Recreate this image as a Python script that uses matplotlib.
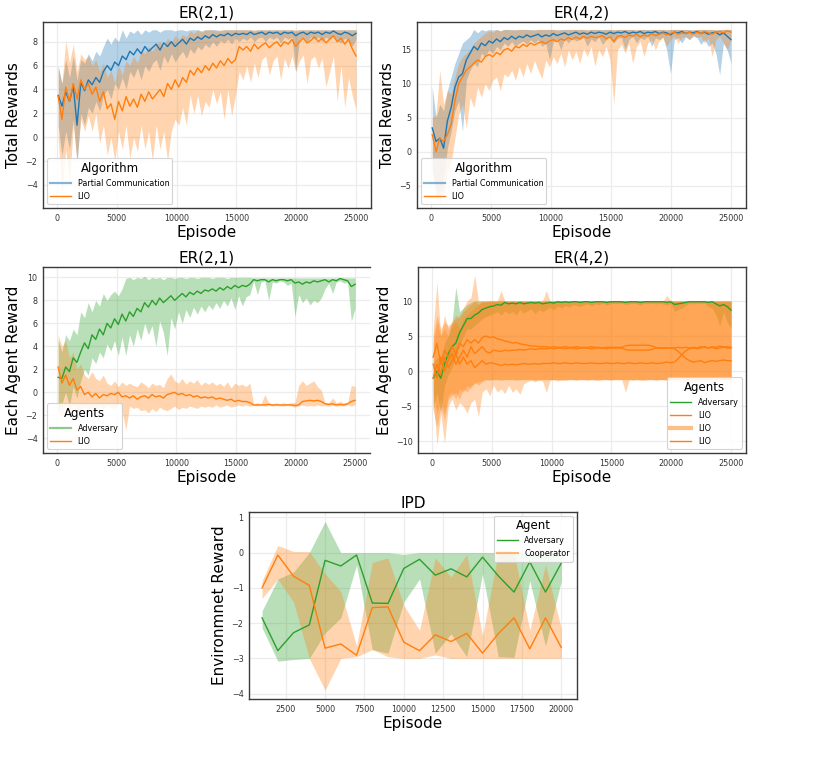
import numpy as np
import matplotlib
matplotlib.use("Agg")
import matplotlib.pyplot as plt
from matplotlib.lines import Line2D

# ---------------- data ----------------
episodes = np.linspace(100, 25000, 80)

# ER(2,1) total rewards
pc1_mean = [3.5, 2.6, 3.8, 3.0, 4.3, 1.0, 4.6, 3.9, 4.8, 4.4,
            5.0, 4.6, 5.5, 6.0, 5.6, 6.3, 6.0, 6.8, 6.5, 7.2,
            6.9, 7.4, 7.0, 7.6, 7.2, 7.5, 7.8, 7.3, 7.9, 7.6,
            8.0, 7.6, 7.9, 8.2, 7.8, 8.3, 8.1, 8.4, 8.2, 8.5,
            8.3, 8.6, 8.4, 8.6, 8.5, 8.7, 8.5, 8.7, 8.6, 8.7,
            8.6, 8.8, 8.6, 8.7, 8.8, 8.6, 8.8, 8.7, 8.8, 8.6,
            8.8, 8.7, 8.8, 8.5, 8.7, 8.8, 8.6, 8.8, 8.7, 8.8,
            8.6, 8.8, 8.7, 8.9, 8.7, 8.6, 8.8, 8.7, 8.5, 8.7]
pc1_hi = [6.0, 4.5, 6.5, 5.0, 6.8, 4.8, 6.5, 6.2, 7.0, 6.4,
          7.2, 6.8, 7.6, 8.3, 7.8, 8.4, 8.0, 9.0, 8.3, 8.9,
          8.7, 9.0, 8.6, 9.0, 8.8, 9.0, 9.0, 8.8, 9.0, 9.0,
          9.0, 8.9, 9.0, 9.0, 8.9, 9.0, 9.0, 9.0, 8.9, 9.0,
          9.0, 9.0, 9.0, 8.9, 9.0, 9.0, 9.0, 9.0, 9.0, 9.0,
          9.0, 9.0, 8.9, 9.0, 9.0, 9.0, 9.0, 9.0, 9.0, 9.0,
          9.0, 9.0, 9.0, 8.9, 9.0, 9.0, 9.0, 9.0, 9.0, 9.0,
          9.0, 9.0, 9.0, 9.0, 9.0, 9.0, 9.0, 9.0, 9.0, 9.0]
pc1_lo = [1.0, -1.5, 0.5, -1.0, 1.5, -2.2, 2.0, 1.0, 2.5, 2.0,
          3.0, 2.2, 3.5, 4.0, 3.2, 4.5, 4.0, 5.0, 4.0, 5.5,
          5.0, 5.8, 4.8, 6.0, 5.5, 6.2, 6.5, 5.6, 6.8, 6.2,
          7.0, 6.3, 6.8, 7.2, 6.6, 7.4, 7.0, 7.6, 7.3, 7.8,
          7.5, 8.0, 7.6, 8.1, 7.9, 8.2, 7.8, 8.3, 8.0, 8.3,
          8.1, 8.4, 8.0, 8.3, 8.4, 8.0, 8.4, 8.2, 8.4, 7.9,
          8.4, 8.2, 8.4, 5.5, 8.2, 8.4, 8.0, 8.4, 8.2, 8.4,
          8.0, 8.4, 8.2, 8.5, 8.1, 7.9, 8.3, 8.1, 7.6, 8.2]
lio1_mean = [3.4, 1.5, 4.2, 3.0, 4.5, 3.2, 4.8, 4.0, 4.5, 3.6,
             4.2, 3.0, 3.8, 2.4, 2.8, 1.5, 3.0, 2.2, 3.4, 2.6,
             3.2, 2.5, 3.6, 3.0, 3.8, 3.2, 3.6, 4.0, 3.4, 4.5,
             4.0, 4.8, 4.2, 5.0, 4.6, 5.6, 5.2, 5.8, 5.4, 6.0,
             5.6, 6.2, 5.8, 6.4, 6.0, 6.6, 6.2, 6.5, 7.6, 7.3,
             7.6, 7.2, 7.8, 7.4, 7.7, 7.9, 7.5, 7.8, 8.0, 7.6,
             8.0, 7.8, 8.2, 7.6, 8.0, 8.3, 7.9, 8.1, 8.4, 8.0,
             8.3, 7.9, 8.2, 8.5, 8.0, 8.3, 7.8, 8.2, 7.4, 6.8]
lio1_hi = [5.8, 4.5, 8.1, 6.2, 7.8, 5.5, 7.0, 6.5, 6.8, 6.0,
           6.5, 5.5, 6.2, 5.0, 5.6, 4.5, 6.0, 5.2, 6.4, 6.0,
           6.8, 6.2, 7.2, 7.0, 7.6, 7.2, 7.8, 8.0, 7.6, 8.3,
           8.0, 8.5, 8.2, 8.6, 8.4, 8.9, 8.7, 9.0, 8.8, 9.0,
           9.0, 9.0, 8.9, 9.0, 9.0, 9.0, 9.0, 9.0, 9.0, 9.0,
           9.0, 9.0, 9.0, 9.0, 9.0, 9.0, 9.0, 9.0, 9.0, 9.0,
           9.0, 9.0, 9.0, 9.0, 9.0, 9.0, 9.0, 9.0, 9.0, 9.0,
           9.0, 9.0, 9.0, 9.0, 9.0, 9.0, 9.0, 9.0, 9.0, 9.0]
lio1_lo = [0.0, -5.0, -1.0, -4.0, 1.0, -2.0, 1.5, 0.5, 1.8, 0.5,
           2.0, -0.5, 1.0, -1.5, 0.0, -2.0, 0.5, -1.0, 1.0, -1.8,
           0.0, -1.2, 1.0, -1.0, 0.5, -2.0, 1.0, -1.0, 0.5, -2.0,
           0.5, 1.5, 1.0, 2.5, 1.0, 3.5, 2.0, 3.5, 1.8, 3.0,
           2.5, 4.0, 2.8, 3.8, 1.5, 4.0, 1.8, 3.5, 5.5, 4.8,
           6.0, 4.6, 6.2, 5.0, 6.5, 6.8, 5.2, 6.4, 6.8, 4.8,
           6.6, 5.8, 6.8, 5.5, 6.4, 6.9, 4.5, 6.5, 6.8, 5.8,
           6.6, 4.2, 5.5, 6.8, 3.0, 6.0, 2.5, 5.0, 3.5, 2.3]

# ER(4,2) total rewards
pc2_mean = [3.5, 1.5, 2.0, 0.5, 4.5, 6.5, 9.5, 11.0, 11.5, 13.5,
            14.5, 15.5, 15.0, 16.0, 15.6, 16.3, 16.0, 16.6, 16.2, 16.8,
            16.5, 17.0, 16.6, 17.0, 16.8, 17.2, 16.9, 17.1, 17.3, 16.9,
            17.2, 17.0, 17.4, 17.1, 17.3, 17.5, 17.2, 17.4, 17.6, 17.3,
            17.5, 17.3, 17.6, 17.4, 17.6, 17.5, 17.3, 17.6, 17.4, 17.6,
            17.5, 17.7, 17.4, 17.6, 17.5, 17.7, 17.4, 17.6, 17.5, 17.7,
            17.4, 17.6, 17.5, 17.2, 17.6, 17.5, 17.7, 17.4, 17.6, 17.5,
            17.7, 17.4, 17.6, 17.3, 17.5, 17.6, 17.2, 17.5, 17.0, 16.5]
pc2_hi = [9.5, 5.0, 7.0, 6.0, 9.0, 11.0, 13.0, 14.5, 16.0, 16.5,
          17.0, 18.0, 17.5, 18.0, 17.8, 18.0, 17.9, 18.0, 17.8, 18.0,
          18.0, 18.0, 17.9, 18.0, 18.0, 18.0, 18.0, 17.9, 18.0, 18.0,
          18.0, 18.0, 18.0, 17.9, 18.0, 18.0, 18.0, 18.0, 18.0, 18.0,
          18.0, 17.9, 18.0, 18.0, 18.0, 18.0, 18.0, 18.0, 17.9, 18.0,
          18.0, 18.0, 18.0, 18.0, 17.9, 18.0, 18.0, 18.0, 18.0, 18.0,
          18.0, 18.0, 17.9, 18.0, 18.0, 18.0, 18.0, 18.0, 18.0, 17.9,
          18.0, 18.0, 18.0, 18.0, 18.0, 17.9, 18.0, 18.0, 18.0, 18.0]
pc2_lo = [-3.0, -5.5, -7.5, -4.0, 0.5, 3.0, 6.0, 7.5, 3.0, 10.5,
          12.0, 13.0, 12.5, 14.5, 14.0, 15.0, 14.5, 15.5, 15.0, 16.0,
          15.5, 16.2, 15.5, 16.0, 16.3, 15.8, 16.5, 16.0, 16.5, 15.5,
          16.0, 13.5, 16.2, 16.5, 15.0, 16.6, 16.0, 16.8, 16.3, 16.5,
          16.8, 15.5, 16.6, 16.2, 16.9, 15.8, 16.5, 17.0, 16.0, 16.7,
          16.8, 15.0, 16.5, 17.0, 16.0, 16.8, 16.5, 17.0, 15.5, 16.8,
          16.5, 16.9, 15.0, 11.5, 16.5, 16.8, 16.0, 16.9, 16.5, 17.0,
          16.8, 15.8, 16.5, 15.5, 16.0, 14.5, 11.3, 16.0, 15.0, 13.0]
lio2_mean = [2.5, 0.0, 2.0, 1.5, 2.5, 4.0, 7.5, 10.0, 11.0, 12.0,
             12.5, 13.0, 13.5, 13.2, 14.0, 14.3, 14.0, 14.6, 14.3, 15.0,
             15.2, 14.8, 15.5, 15.3, 15.8, 15.5, 16.0, 15.7, 16.0, 16.2,
             15.9, 16.3, 16.5, 16.2, 16.6, 16.4, 16.8, 16.5, 16.9, 16.6,
             17.0, 16.7, 17.0, 16.8, 16.9, 17.1, 16.6, 16.9, 16.2, 17.0,
             17.1, 16.8, 17.2, 17.0, 17.3, 16.9, 17.2, 17.0, 17.4, 17.1,
             17.3, 17.5, 17.2, 17.4, 17.6, 17.3, 17.5, 17.4, 17.6, 17.3,
             17.6, 17.4, 17.7, 17.5, 17.3, 17.6, 17.7, 17.5, 17.8, 17.6]
lio2_hi = [5.0, 5.5, 12.0, 7.0, 9.0, 8.5, 11.0, 13.0, 14.0, 14.5,
           15.0, 16.0, 16.5, 17.0, 17.5, 17.8, 17.6, 18.0, 17.8, 18.0,
           18.0, 17.9, 18.0, 18.0, 18.0, 18.0, 17.9, 18.0, 18.0, 18.0,
           18.0, 18.0, 18.0, 18.0, 17.9, 18.0, 18.0, 18.0, 18.0, 18.0,
           18.0, 18.0, 18.0, 18.0, 18.0, 17.9, 18.0, 18.0, 18.0, 18.0,
           18.0, 18.0, 18.0, 18.0, 18.0, 18.0, 18.0, 17.9, 18.0, 18.0,
           18.0, 18.0, 18.0, 18.0, 18.0, 18.0, 18.0, 18.0, 17.9, 18.0,
           18.0, 18.0, 18.0, 18.0, 18.0, 18.0, 18.0, 18.0, 18.0, 18.0]
lio2_lo = [-2.0, -7.5, -5.0, -7.0, -3.0, -1.5, 2.0, 5.5, 7.0, 3.5,
           8.0, 6.5, 9.5, 8.0, 10.0, 9.0, 10.5, 11.0, 9.0, 11.5,
           11.0, 12.0, 10.5, 12.5, 11.0, 13.0, 11.5, 13.5, 12.0, 10.8,
           13.5, 12.5, 14.0, 13.0, 14.5, 12.5, 15.0, 13.5, 14.8, 13.0,
           15.2, 14.0, 15.5, 12.6, 15.0, 14.0, 15.5, 13.5, 7.0, 15.0,
           15.8, 14.5, 16.0, 13.0, 15.5, 16.2, 14.0, 16.0, 16.5, 15.0,
           16.3, 16.8, 15.5, 16.5, 17.0, 16.0, 16.8, 17.0, 16.5, 17.2,
           16.8, 17.0, 16.0, 16.8, 14.0, 16.5, 17.0, 16.0, 15.0, 16.5]

# ER(2,1) each agent reward
adv3_mean = [1.3, 1.2, 2.2, 1.8, 3.0, 2.6, 3.5, 4.3, 3.8, 5.0,
             4.6, 5.5, 5.0, 6.0, 5.6, 6.4, 5.9, 6.8, 6.2, 7.0,
             6.6, 7.3, 7.0, 7.8, 7.4, 8.0, 7.6, 8.2, 7.8, 8.1,
             8.4, 8.0, 8.3, 8.6, 8.3, 8.7, 8.5, 8.8, 8.6, 8.9,
             8.8, 9.0, 8.8, 9.1, 8.9, 9.2, 9.0, 9.3, 9.1, 9.3,
             9.2, 9.4, 9.8, 9.7, 9.8, 9.8, 9.6, 9.8, 9.7, 9.8,
             9.8, 9.7, 9.8, 9.5, 9.6, 9.4, 9.6, 9.5, 9.7, 9.6,
             9.7, 9.8, 9.6, 9.8, 9.7, 9.9, 9.8, 9.7, 9.2, 9.4]
adv3_hi = [4.5, 3.5, 5.0, 4.5, 5.5, 5.0, 7.0, 6.5, 7.8, 7.0,
           8.0, 7.5, 8.6, 8.0, 8.5, 8.8, 8.4, 9.0, 9.9, 10.0,
           9.8, 10.0, 9.9, 10.1, 9.8, 10.0, 9.9, 10.0, 9.8, 10.0,
           10.0, 9.9, 10.0, 10.0, 9.9, 10.0, 10.0, 9.9, 10.0, 10.0,
           10.0, 9.9, 10.0, 10.0, 10.0, 9.9, 10.0, 10.0, 10.0, 10.0,
           10.0, 10.0, 9.95, 9.95, 9.95, 9.95, 9.95, 9.95, 9.95, 9.95,
           9.95, 9.95, 9.95, 9.95, 9.95, 9.95, 9.95, 9.95, 9.95, 9.95,
           9.95, 9.95, 9.95, 9.95, 9.95, 9.95, 9.95, 9.95, 9.95, 9.95]
adv3_lo = [-1.5, -1.0, 0.0, -1.2, 0.5, -0.5, 1.0, 2.0, 1.5, 3.0,
           2.5, 3.5, 3.0, 4.2, 3.6, 4.5, 3.2, 4.8, 3.2, 5.0,
           4.0, 5.5, 4.5, 6.0, 5.0, 5.8, 4.0, 6.2, 5.2, 3.2,
           6.5, 5.5, 7.0, 6.0, 7.2, 6.5, 7.4, 6.8, 7.5, 7.0,
           7.6, 7.2, 7.8, 7.3, 8.0, 7.5, 8.2, 7.2, 8.4, 7.5,
           8.3, 8.5, 9.7, 8.5, 9.6, 9.7, 8.0, 9.6, 9.5, 9.7,
           9.6, 9.3, 9.5, 6.6, 8.5, 7.8, 8.2, 7.6, 8.0, 7.8,
           8.2, 9.0, 9.5, 8.6, 9.6, 9.7, 9.5, 9.6, 6.2, 7.3]
lio3_mean = [2.2, 0.8, 1.5, 0.6, 1.2, 0.2, 0.5, -0.2, 0.0, -0.4,
             -0.1, -0.5, -0.2, -0.3, -0.1, -0.2, 0.0, -0.4, -0.3, -0.5,
             -0.3, -0.6, -0.4, -0.3, -0.5, -0.2, -0.4, -0.3, -0.5, -0.2,
             -0.1, 0.0, -0.2, -0.1, -0.3, -0.2, -0.4, -0.3, -0.5, -0.4,
             -0.5, -0.4, -0.6, -0.5, -0.6, -0.7, -0.6, -0.8, -0.7, -0.8,
             -0.8, -0.9, -1.1, -1.1, -1.1, -1.1, -1.05, -1.1, -1.1, -1.1,
             -1.1, -1.1, -1.1, -1.15, -1.1, -0.8, -0.75, -0.7, -0.75, -0.7,
             -0.8, -1.0, -1.05, -1.0, -1.1, -1.05, -1.1, -1.0, -0.8, -0.7]
lio3_hi = [5.0, 4.0, 4.5, 3.0, 3.5, 2.0, 2.5, 1.5, 1.2, 1.8,
           1.2, 1.0, 1.5, 0.8, 0.6, 1.0, 0.5, 0.9, 0.6, 0.8,
           0.6, 0.5, 0.9, 0.7, 0.4, 0.8, 0.6, 0.7, 0.4, 1.2,
           1.6, 1.0, 0.8, 1.2, 0.7, 1.0, 0.8, 1.1, 0.6, 0.9,
           0.7, 0.9, 0.6, 0.8, 0.5, 0.9, 0.4, 0.8, 0.6, 0.7,
           0.5, 0.8, -1.0, -0.9, -1.0, -0.2, -0.9, -1.0, -0.9, -1.0,
           -0.9, -1.0, -0.9, -0.9, 0.6, 1.0, 0.6, 0.8, 1.0, 0.5,
           0.2, -0.9, -0.9, -0.5, -0.9, -0.8, -0.9, -0.9, 0.6, 0.5]
lio3_lo = [-1.5, -2.2, -1.0, -2.0, -1.0, -1.8, -1.5, -1.2, -1.6, -1.3,
           -1.5, -1.2, -1.4, -1.1, -1.3, -1.5, -1.0, -1.6, -3.3, -1.2,
           -1.4, -1.3, -1.6, -1.5, -1.8, -1.4, -1.7, -1.3, -1.5, -1.6,
           -1.4, -1.2, -1.5, -1.3, -1.4, -1.2, -1.3, -1.4, -1.2, -1.3,
           -1.2, -1.3, -1.1, -1.3, -1.2, -1.1, -1.3, -1.2, -1.1, -1.2,
           -1.1, -1.2, -1.15, -1.2, -1.15, -1.2, -1.15, -1.2, -1.15, -1.2,
           -1.2, -1.15, -1.2, -1.3, -1.2, -1.1, -1.2, -1.15, -1.2, -1.1,
           -1.2, -1.15, -1.2, -1.15, -1.2, -1.15, -1.2, -1.1, -1.2, -1.1]

# ER(4,2) each agent reward
adv4_mean = [-1.0, 0.0, -1.0, 1.0, 2.5, 3.5, 4.0, 5.5, 6.5, 7.5,
             7.5, 8.0, 8.3, 8.8, 9.0, 9.2, 9.3, 9.5, 9.4, 9.8,
             9.6, 9.7, 9.6, 9.8, 9.6, 9.7, 9.8, 9.7, 9.8, 9.6,
             9.7, 9.8, 9.7, 9.9, 9.8, 9.9, 9.8, 9.9, 9.9, 9.8,
             9.9, 9.9, 9.8, 9.9, 9.9, 9.9, 9.8, 9.9, 9.9, 9.9,
             9.9, 9.8, 9.9, 9.9, 9.9, 9.8, 9.9, 9.9, 9.9, 9.9,
             9.9, 9.9, 9.8, 9.9, 9.5, 9.6, 9.7, 9.8, 9.9, 9.9,
             9.9, 9.9, 9.9, 9.8, 9.9, 9.6, 9.3, 9.5, 9.2, 8.7]
adv4_hi = [1.0, 2.0, 1.5, 4.0, 5.0, 7.0, 12.0, 8.5, 9.0, 9.5,
           9.8, 10.0, 10.0, 10.0, 10.0, 10.0, 10.0, 10.0, 10.0, 10.0,
           10.0, 10.0, 10.0, 10.0, 10.0, 10.0, 10.0, 10.0, 10.0, 10.0,
           10.0, 10.0, 10.0, 10.0, 10.0, 10.0, 10.0, 10.0, 10.0, 10.0,
           10.0, 10.0, 10.0, 10.0, 10.0, 10.0, 10.0, 10.0, 10.0, 10.0,
           10.0, 10.0, 10.0, 10.0, 10.0, 10.0, 10.0, 10.0, 10.0, 10.0,
           10.0, 10.0, 10.0, 10.0, 10.0, 10.0, 10.0, 10.0, 10.0, 10.0,
           10.0, 10.0, 10.0, 10.0, 10.0, 10.0, 10.0, 10.0, 10.0, 10.0]
adv4_lo = [-5.5, -3.0, -6.0, -2.0, -0.5, 0.5, 2.0, 3.5, 5.0, 6.0,
           6.0, 6.5, 7.0, 7.5, 7.8, 8.0, 8.2, 8.5, 8.0, 8.6,
           8.2, 8.5, 8.0, 8.8, 8.3, 8.6, 8.9, 8.2, 8.8, 8.5,
           8.8, 9.1, 8.7, 9.3, 9.0, 9.4, 9.1, 9.5, 9.4, 9.2,
           9.5, 9.6, 9.3, 9.6, 9.5, 9.7, 9.4, 9.6, 9.7, 9.6,
           9.7, 9.5, 9.6, 9.7, 9.6, 9.4, 9.7, 9.6, 9.7, 9.6,
           9.7, 9.6, 9.4, 9.7, 8.5, 8.8, 9.0, 9.4, 9.7, 9.6,
           9.7, 9.6, 9.7, 9.2, 9.0, 8.0, 6.5, 8.5, 7.0, 6.2]
lioa_mean = [2.0, 4.0, 1.0, 3.0, 2.0, 3.5, 2.5, 4.0, 3.5, 4.5,
             4.0, 4.5, 4.0, 4.8, 5.0, 4.8, 4.9, 4.6, 4.5, 4.3,
             4.2, 4.0, 4.1, 3.9, 3.8, 3.7, 3.6, 3.6, 3.5, 3.5,
             3.5, 3.4, 3.5, 3.4, 3.4, 3.5, 3.4, 3.4, 3.5, 3.4,
             3.4, 3.4, 3.5, 3.4, 3.4, 3.3, 3.4, 3.4, 3.4, 3.4,
             3.4, 3.6, 3.7, 3.7, 3.7, 3.7, 3.7, 3.7, 3.6, 3.4,
             3.3, 3.3, 3.3, 3.3, 3.3, 3.4, 3.3, 3.4, 3.3, 3.4,
             3.3, 3.5, 3.4, 3.3, 3.5, 3.4, 3.6, 3.4, 3.5, 3.4]
lioa_hi = [6.0, 12.7, 5.0, 8.0, 6.0, 7.0, 8.0, 7.5, 9.0, 10.0,
           10.5, 13.7, 10.0, 10.0, 9.8, 10.0, 10.0, 10.0, 11.5, 10.0,
           10.0, 10.0, 10.0, 10.0, 10.0, 10.0, 10.0, 10.0, 10.0, 10.0,
           11.5, 10.0, 10.0, 10.0, 10.0, 10.0, 10.0, 10.0, 10.0, 10.0,
           10.0, 10.0, 10.0, 10.0, 10.0, 10.0, 10.0, 10.0, 10.0, 10.0,
           10.0, 10.0, 10.0, 10.0, 10.0, 10.0, 10.0, 10.0, 10.0, 10.0,
           10.0, 10.0, 10.8, 10.0, 10.0, 10.0, 10.0, 10.0, 10.0, 10.0,
           10.0, 10.0, 10.0, 10.0, 10.0, 10.0, 10.0, 10.0, 10.0, 10.0]
lioa_lo = [-4.0, -10.5, -6.0, -10.3, -5.0, -4.0, -5.5, -4.5, -5.0, -6.0,
           -4.5, -4.0, -6.5, -3.0, -2.5, -3.5, -2.0, -3.0, -2.5, -3.2,
           -2.0, -3.0, -2.5, -3.3, -1.8, -1.5, -1.3, -1.5, -1.3, -1.4,
           -3.0, -1.3, -1.2, -1.4, -1.2, -1.3, -1.2, -1.2, -1.3, -1.2,
           -1.2, -1.3, -1.2, -1.2, -1.3, -1.2, -1.2, -1.3, -1.2, -1.2,
           -1.2, -3.0, -1.2, -1.3, -1.2, -1.2, -1.3, -1.2, -1.2, -1.3,
           -1.2, -1.2, -1.3, -1.2, -1.2, -1.2, -1.3, -1.2, -1.2, -1.3,
           -1.2, -1.2, -1.3, -1.2, -1.2, -1.3, -1.2, -1.2, -1.3, -1.2]
liob_mean = [1.0, -1.0, 2.0, 0.0, 1.5, 2.5, 1.0, 2.0, 3.0, 2.0,
             3.5, 2.5, 3.0, 3.5, 2.8, 2.6, 3.0, 2.9, 2.8, 3.0,
             2.9, 3.0, 3.0, 3.1, 3.0, 3.1, 3.2, 3.1, 3.2, 3.2,
             3.2, 3.3, 3.2, 3.3, 3.3, 3.2, 3.3, 3.3, 3.2, 3.3,
             3.3, 3.3, 3.2, 3.3, 3.3, 3.3, 3.2, 3.3, 3.3, 3.3,
             3.3, 3.1, 3.0, 3.0, 3.0, 3.0, 3.0, 3.0, 3.1, 3.3,
             3.3, 3.3, 3.3, 3.3, 3.2, 2.8, 2.3, 1.8, 1.5, 1.3,
             1.4, 1.5, 1.2, 1.4, 1.5, 1.4, 1.5, 1.6, 1.5, 1.5]
liob_hi = [5.0, 8.0, 6.0, 7.0, 6.5, 7.0, 7.5, 8.0, 8.5, 9.0,
           9.5, 10.0, 9.5, 10.0, 10.0, 10.0, 10.0, 10.0, 10.0, 10.0,
           10.0, 10.0, 10.0, 10.0, 10.0, 10.0, 10.0, 10.0, 10.0, 10.0,
           10.0, 10.0, 10.0, 10.0, 10.0, 10.0, 10.0, 10.0, 10.0, 10.0,
           10.0, 10.0, 10.0, 10.0, 10.0, 10.0, 10.0, 10.0, 10.0, 10.0,
           10.0, 10.0, 10.0, 10.0, 10.0, 10.0, 10.0, 10.0, 10.0, 10.0,
           10.0, 10.0, 10.0, 10.0, 10.0, 10.0, 10.0, 10.0, 10.0, 10.0,
           10.0, 10.0, 10.0, 10.0, 10.0, 10.0, 10.0, 10.0, 10.0, 10.0]
liob_lo = [-3.0, -6.0, -4.0, -6.0, -3.5, -3.0, -4.0, -2.5, -3.0, -2.0,
           -2.5, -1.5, -2.0, -1.5, -1.2, -1.3, -1.2, -1.2, -1.3, -1.2,
           -1.2, -1.2, -1.3, -1.2, -1.2, -1.2, -1.2, -1.3, -1.2, -1.2,
           -1.2, -1.2, -1.2, -1.2, -1.3, -1.2, -1.2, -1.2, -1.2, -1.2,
           -1.2, -1.2, -1.2, -1.3, -1.2, -1.2, -1.2, -1.2, -1.2, -1.2,
           -1.2, -1.2, -1.2, -1.2, -1.2, -1.3, -1.2, -1.2, -1.2, -1.2,
           -1.2, -1.2, -1.2, -1.2, -1.2, -1.2, -1.2, -1.3, -1.2, -1.2,
           -1.2, -1.2, -1.2, -1.2, -1.2, -1.2, -1.2, -1.2, -1.2, -1.2]
lioc_mean = [-1.0, 1.0, -0.5, 2.0, 0.5, 1.5, 2.5, 1.0, 2.0, 1.0,
             1.5, 0.5, 1.0, 1.5, 1.0, 1.2, 1.1, 1.0, 0.8, 1.0,
             0.9, 1.0, 0.9, 1.0, 1.1, 1.0, 1.0, 1.1, 1.0, 1.1,
             1.1, 1.1, 1.2, 1.1, 1.1, 1.2, 1.1, 1.1, 1.2, 1.1,
             1.1, 1.1, 1.2, 1.1, 1.1, 1.1, 1.2, 1.1, 1.1, 1.2,
             1.1, 1.1, 1.2, 1.1, 1.1, 1.2, 1.1, 1.1, 1.2, 1.1,
             1.1, 1.2, 1.3, 1.2, 1.3, 1.8, 2.4, 2.9, 3.2, 3.3,
             3.2, 3.3, 3.5, 3.3, 3.4, 3.2, 3.3, 3.5, 3.3, 3.3]
lioc_hi = [4.0, 7.0, 5.0, 6.0, 5.0, 6.5, 7.0, 6.0, 7.5, 8.0,
           8.5, 9.0, 9.5, 9.8, 10.0, 10.0, 10.0, 10.0, 10.0, 10.0,
           10.0, 10.0, 10.0, 10.0, 10.0, 10.0, 10.0, 10.0, 10.0, 10.0,
           10.0, 10.0, 10.0, 10.0, 10.0, 10.0, 10.0, 10.0, 10.0, 10.0,
           10.0, 10.0, 10.0, 10.0, 10.0, 10.0, 10.0, 10.0, 10.0, 10.0,
           10.0, 10.0, 10.0, 10.0, 10.0, 10.0, 10.0, 10.0, 10.0, 10.0,
           10.0, 10.0, 10.0, 10.0, 10.0, 10.0, 10.0, 10.0, 10.0, 10.0,
           10.0, 10.0, 10.0, 10.0, 10.0, 10.0, 10.0, 10.0, 10.0, 10.0]
lioc_lo = [-5.5, -8.0, -5.0, -7.0, -4.0, -3.5, -3.0, -4.0, -2.5, -3.0,
           -2.0, -1.8, -1.5, -1.3, -1.2, -1.2, -1.2, -1.2, -1.2, -1.2,
           -1.2, -1.2, -1.2, -1.2, -1.2, -1.2, -1.2, -1.2, -1.2, -1.2,
           -1.2, -1.2, -1.2, -1.2, -1.2, -1.2, -1.2, -1.2, -1.2, -1.2,
           -1.2, -1.2, -1.2, -1.2, -1.2, -1.2, -1.2, -1.2, -1.2, -1.2,
           -1.2, -1.2, -1.2, -1.2, -1.2, -1.2, -1.2, -1.2, -1.2, -1.2,
           -1.2, -1.2, -1.2, -1.2, -1.2, -1.2, -1.2, -1.2, -1.2, -1.2,
           -1.2, -1.2, -1.2, -1.2, -1.2, -1.2, -1.2, -1.2, -1.2, -1.2]

# IPD
ipd_episodes = [1000, 2000, 3000, 4000, 5000, 6000, 7000, 8000, 9000, 10000,
                11000, 12000, 13000, 14000, 15000, 16000, 17000, 18000, 19000, 20000]
ipd_adv_mean = [-1.85, -2.78, -2.27, -2.05, -0.22, -0.38, -0.07, -1.43, -1.44, -0.45,
                -0.19, -0.64, -0.46, -0.69, -0.13, -0.66, -1.12, -0.26, -1.12, -0.30]
ipd_adv_hi = [-1.65, -0.75, -0.55, 0.0, 0.88, 0.0, 0.0, 0.0, 0.0, -0.05,
              0.0, 0.0, 0.0, 0.0, 0.0, 0.0, 0.0, 0.0, 0.0, 0.0]
ipd_adv_lo = [-2.13, -3.08, -3.03, -3.0, -2.28, -1.85, -0.35, -2.75, -2.85, -1.4,
              -0.75, -2.85, -2.3, -2.95, -0.6, -2.95, -2.97, -0.8, -2.65, -0.8]
ipd_coop_mean = [-1.0, -0.07, -0.67, -0.93, -2.71, -2.59, -2.91, -1.56, -1.54, -2.54,
                 -2.78, -2.33, -2.52, -2.29, -2.85, -2.3, -1.85, -2.73, -1.85, -2.69]
ipd_coop_hi = [-0.8, 0.2, 0.03, 0.03, -0.6, -1.1, -2.65, -0.28, -0.15, -1.5,
               -2.2, -0.15, -0.7, -0.05, -2.35, 0.0, 0.0, -2.2, -0.35, -2.15]
ipd_coop_lo = [-1.3, -0.75, -1.4, -3.0, -3.9, -3.0, -2.95, -2.75, -2.95, -3.0,
               -3.0, -2.9, -3.0, -3.0, -3.0, -3.0, -3.0, -3.0, -3.0, -3.0]

# ---------------- style ----------------
BLUE = "#1f77b4"
ORANGE = "#ff7f0e"
GREEN = "#2ca02c"
BAND_ALPHA = 0.33
LW = 1.0

plt.rcParams['font.family'] = ['DejaVu Sans']
fig = plt.figure(figsize=(8.38, 7.6), dpi=100)
W, H = 838.0, 760.0


def make_ax(px_left, px_top, px_w, px_h, xlim, ylim, xticks, yticks,
            title, ylabel, right_spine=True):
    ax = fig.add_axes([px_left / W, 1 - (px_top + px_h) / H, px_w / W, px_h / H])
    ax.set_xlim(*xlim)
    ax.set_ylim(*ylim)
    ax.set_xticks(xticks)
    ax.set_yticks(yticks)
    ax.grid(True, color="#ececec", linewidth=0.9)
    ax.set_axisbelow(True)
    ax.tick_params(length=0, labelsize=5.8, pad=4, colors="#333333")
    for s in ax.spines.values():
        s.set_color("#3a3a3a")
        s.set_linewidth(1.0)
    if not right_spine:
        ax.spines['right'].set_visible(False)
    ax.set_title(title, fontsize=11, pad=3)
    ax.set_xlabel("Episode", fontsize=11, labelpad=2)
    ax.set_ylabel(ylabel, fontsize=11, labelpad=3)
    return ax


def band(ax, x, lo, hi, color):
    ax.fill_between(x, lo, hi, color=color, alpha=BAND_ALPHA, linewidth=0)


def legend(ax, handles, labels, title, loc):
    lg = ax.legend(handles, labels, title=title, loc=loc, fontsize=5.8,
                   title_fontsize=8.5, frameon=True, framealpha=0.85,
                   edgecolor="#cccccc", borderaxespad=0.5, handlelength=2.6,
                   labelspacing=0.5)
    lg.get_frame().set_linewidth(0.8)
    return lg


xt = [0, 5000, 10000, 15000, 20000, 25000]
xl = (-1170, 26250)

# ---- ER(2,1) total ----
ax1 = make_ax(43, 22, 328, 186, xl, (-5.93, 9.65), xt, [-4, -2, 0, 2, 4, 6, 8],
              "ER(2,1)", "Total Rewards")
band(ax1, episodes, pc1_lo, pc1_hi, BLUE)
band(ax1, episodes, lio1_lo, lio1_hi, ORANGE)
ax1.plot(episodes, pc1_mean, color=BLUE, lw=LW)
ax1.plot(episodes, lio1_mean, color=ORANGE, lw=LW)
legend(ax1, [Line2D([], [], color=BLUE, lw=1.6, alpha=0.55),
             Line2D([], [], color=ORANGE, lw=1.0)],
       ["Partial Communication", "LIO"], "Algorithm", "lower left")

# ---- ER(4,2) total ----
ax2 = make_ax(417, 22, 329, 186, xl, (-8.3, 19.1), xt, [-5, 0, 5, 10, 15],
              "ER(4,2)", "Total Rewards")
band(ax2, episodes, pc2_lo, pc2_hi, BLUE)
band(ax2, episodes, lio2_lo, lio2_hi, ORANGE)
ax2.plot(episodes, pc2_mean, color=BLUE, lw=LW)
ax2.plot(episodes, lio2_mean, color=ORANGE, lw=LW)
legend(ax2, [Line2D([], [], color=BLUE, lw=1.6, alpha=0.55),
             Line2D([], [], color=ORANGE, lw=1.0)],
       ["Partial Communication", "LIO"], "Algorithm", "lower left")

# ---- ER(2,1) each agent ----
ax3 = make_ax(43, 267, 327, 186, xl, (-5.28, 10.9), xt, [-4, -2, 0, 2, 4, 6, 8, 10],
              "ER(2,1)", "Each Agent Reward", right_spine=False)
band(ax3, episodes, adv3_lo, adv3_hi, GREEN)
band(ax3, episodes, lio3_lo, lio3_hi, ORANGE)
ax3.plot(episodes, adv3_mean, color=GREEN, lw=LW)
ax3.plot(episodes, lio3_mean, color=ORANGE, lw=LW)
legend(ax3, [Line2D([], [], color=GREEN, lw=1.6, alpha=0.55),
             Line2D([], [], color=ORANGE, lw=1.0)],
       ["Adversary", "LIO"], "Agents", "lower left")

# ---- ER(4,2) each agent ----
ax4 = make_ax(418, 267, 328, 186, xl, (-11.66, 14.85), xt, [-10, -5, 0, 5, 10],
              "ER(4,2)", "Each Agent Reward")
band(ax4, episodes, adv4_lo, adv4_hi, GREEN)
for lo, hi in [(lioa_lo, lioa_hi), (liob_lo, liob_hi), (lioc_lo, lioc_hi)]:
    band(ax4, episodes, lo, hi, ORANGE)
ax4.plot(episodes, adv4_mean, color=GREEN, lw=LW)
for m in [lioa_mean, liob_mean, lioc_mean]:
    ax4.plot(episodes, m, color=ORANGE, lw=LW)
legend(ax4, [Line2D([], [], color=GREEN, lw=1.0),
             Line2D([], [], color=ORANGE, lw=1.0),
             Line2D([], [], color=ORANGE, lw=3.0, alpha=0.5),
             Line2D([], [], color=ORANGE, lw=1.0)],
       ["Adversary", "LIO", "LIO", "LIO"], "Agents", "lower right")

# ---- IPD ----
ax5 = make_ax(249, 512, 328, 187, (170, 21000), (-4.15, 1.15),
              [2500, 5000, 7500, 10000, 12500, 15000, 17500, 20000],
              [-4, -3, -2, -1, 0, 1], "IPD", "Environmnet Reward")
band(ax5, ipd_episodes, ipd_adv_lo, ipd_adv_hi, GREEN)
band(ax5, ipd_episodes, ipd_coop_lo, ipd_coop_hi, ORANGE)
ax5.plot(ipd_episodes, ipd_adv_mean, color=GREEN, lw=LW)
ax5.plot(ipd_episodes, ipd_coop_mean, color=ORANGE, lw=LW)
legend(ax5, [Line2D([], [], color=GREEN, lw=1.0),
             Line2D([], [], color=ORANGE, lw=1.6, alpha=0.55)],
       ["Adversary", "Cooperator"], "Agent", "upper right")

fig.savefig("out.png", dpi=100, facecolor="white")
